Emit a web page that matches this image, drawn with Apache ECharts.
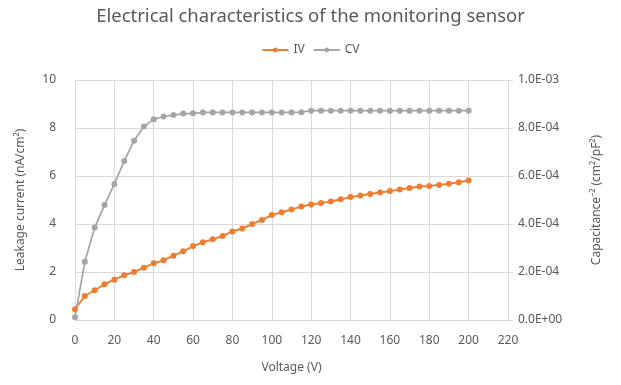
<!DOCTYPE html>
<html>
<head>
<meta charset="utf-8">
<script src="https://cdn.jsdelivr.net/npm/echarts@6/dist/echarts.min.js"></script>
<style>
  html, body { margin: 0; padding: 0; background: #fff; }
  #main { width: 621px; height: 385px; }
</style>
</head>
<body>
<div id="main"></div>
<script>
// bias voltage (V)
var voltage = [0, 5, 10, 15, 20, 25, 30, 35, 40, 45, 50, 55, 60, 65, 70, 75, 80, 85, 90, 95, 100,
  105, 110, 115, 120, 125, 130, 135, 140, 145, 150, 155, 160, 165, 170, 175, 180, 185, 190, 195, 200]
// leakage current (nA/cm2)
var ivValues = [0.45, 1.0, 1.24, 1.49, 1.68, 1.86, 2.0, 2.18, 2.36, 2.49, 2.68, 2.86, 3.08, 3.24, 3.36, 3.5, 3.69, 3.81, 4.0, 4.17, 4.37,
  4.49, 4.6, 4.73, 4.81, 4.87, 4.94, 5.03, 5.12, 5.19, 5.25, 5.31, 5.37, 5.44, 5.5, 5.56, 5.58, 5.63, 5.68, 5.74, 5.81]
// 1/C^2 (cm2/pF2)
var cvValues = [1.1e-5, 2.43e-4, 3.85e-4, 4.79e-4, 5.67e-4, 6.62e-4, 7.47e-4, 8.06e-4, 8.36e-4, 8.48e-4, 8.54e-4, 8.6e-4, 8.61e-4, 8.65e-4, 8.65e-4, 8.65e-4, 8.65e-4, 8.65e-4, 8.65e-4, 8.65e-4, 8.65e-4,
  8.65e-4, 8.65e-4, 8.66e-4, 8.72e-4, 8.72e-4, 8.72e-4, 8.72e-4, 8.72e-4, 8.72e-4, 8.72e-4, 8.72e-4, 8.72e-4, 8.72e-4, 8.72e-4, 8.72e-4, 8.72e-4, 8.72e-4, 8.72e-4, 8.72e-4, 8.72e-4]

var textColor = '#595959'
var gridColor = '#d9d9d9'
var fontName = 'Noto Sans'

function sciLabel (v) {
  if (v === 0) return '0.0E+00'
  var exp = Math.floor(Math.log10(Math.abs(v)) + 1e-9)
  var mant = v / Math.pow(10, exp)
  var sign = exp < 0 ? '-' : '+'
  var e = Math.abs(exp)
  return mant.toFixed(1) + 'E' + sign + (e < 10 ? '0' + e : e)
}

var ivData = []
var cvData = []
for (var i = 0; i < voltage.length; i++) {
  ivData.push([voltage[i], ivValues[i]])
  cvData.push([voltage[i], cvValues[i]])
}

var myChart = echarts.init(document.getElementById('main'))
var option = {
  animation: false,
  color: ['#ED7D31', '#A5A5A5'],
  title: {
    text: 'Electrical characteristics of the monitoring sensor',
    left: 'center',
    top: 2,
    textStyle: { color: textColor, fontSize: 18.5, fontWeight: 'normal', fontFamily: fontName }
  },
  legend: {
    top: 39,
    left: 'center',
    itemWidth: 26,
    itemHeight: 6,
    itemGap: 8,
    textStyle: { color: textColor, fontSize: 12, fontFamily: fontName },
    data: ['IV', 'CV']
  },
  grid: { left: 75, right: 113, top: 80, bottom: 65, containLabel: false },
  xAxis: {
    type: 'value',
    min: 0,
    max: 220,
    interval: 20,
    name: 'Voltage (V)',
    nameLocation: 'middle',
    nameGap: 42,
    nameTextStyle: { color: textColor, fontSize: 12, fontFamily: fontName },
    axisLine: { show: true, lineStyle: { color: gridColor } },
    axisTick: { show: false },
    axisLabel: { color: textColor, fontSize: 12, fontFamily: fontName, margin: 15 },
    splitLine: { show: true, lineStyle: { color: gridColor, width: 1 } }
  },
  yAxis: [
    {
      type: 'value',
      min: 0,
      max: 10,
      interval: 2,
      name: 'Leakage current (nA/cm²)',
      nameLocation: 'middle',
      nameGap: 48,
      nameTextStyle: { color: textColor, fontSize: 12, fontFamily: fontName },
      axisLine: { show: false },
      axisTick: { show: false },
      axisLabel: { color: textColor, fontSize: 12, fontFamily: fontName, margin: 19 },
      splitLine: { show: true, lineStyle: { color: gridColor, width: 1 } }
    },
    {
      type: 'value',
      min: 0,
      max: 0.001,
      interval: 0.0002,
      position: 'right',
      name: 'Capacitance⁻² (cm²/pF²)',
      nameLocation: 'middle',
      nameGap: 83,
      nameTextStyle: { color: textColor, fontSize: 12, fontFamily: fontName },
      axisLine: { show: true, lineStyle: { color: gridColor } },
      axisTick: { show: true, length: 5, lineStyle: { color: gridColor } },
      axisLabel: { color: textColor, fontSize: 12, fontFamily: fontName, margin: 10, formatter: sciLabel },
      splitLine: { show: false }
    }
  ],
  series: [
    {
      name: 'IV',
      type: 'line',
      yAxisIndex: 0,
      symbol: 'circle',
      symbolSize: 6,
      lineStyle: { width: 2 },
      data: ivData
    },
    {
      name: 'CV',
      type: 'line',
      yAxisIndex: 1,
      symbol: 'circle',
      symbolSize: 6,
      lineStyle: { width: 1.75 },
      data: cvData
    }
  ]
}
myChart.setOption(option)
</script>
</body>
</html>
